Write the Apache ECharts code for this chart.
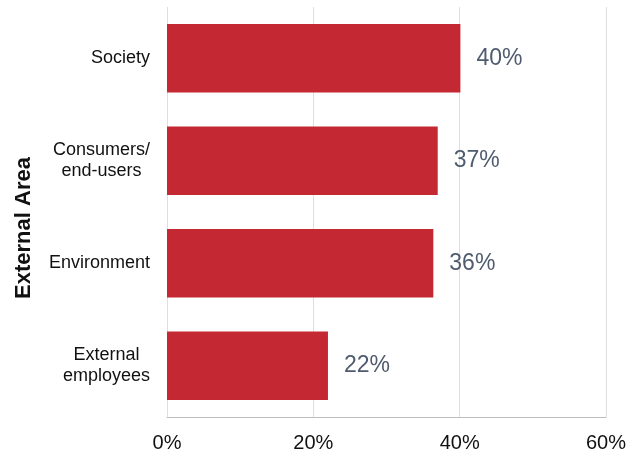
<!DOCTYPE html>
<html>
<head>
<meta charset="utf-8">
<script src="https://cdn.jsdelivr.net/npm/echarts@6/dist/echarts.min.js"></script>
<style>
  html, body { margin: 0; padding: 0; background: #fff; }
  #chart { width: 640px; height: 455px; }
</style>
</head>
<body>
<div id="chart"></div>
<script>
// Share of respondents per external area (percent)
const categories = ['Society', 'Consumers/\nend-users', 'Environment', 'External\nemployees'];
const shares = [40.1, 37.0, 36.4, 22.0];
const axisTicks = [0, 20, 40, 60];

const FONT = 'Liberation Sans, Arial, sans-serif';

const chart = echarts.init(document.getElementById('chart'), null, { renderer: 'canvas' });

chart.setOption({
  animation: false,
  grid: { left: 167, right: 34, top: 7, bottom: 38, containLabel: false },
  xAxis: {
    type: 'value',
    min: axisTicks[0],
    max: axisTicks[axisTicks.length - 1],
    interval: axisTicks[1] - axisTicks[0],
    axisLine: { show: true, lineStyle: { color: '#bfbfbf', width: 1 } },
    axisTick: { show: false },
    splitLine: { show: true, lineStyle: { color: '#dedede', width: 1 } },
    axisLabel: {
      formatter: v => v + '%',
      color: '#111',
      fontFamily: FONT,
      fontSize: 20,
      margin: 16
    }
  },
  yAxis: {
    type: 'category',
    inverse: true,
    data: categories,
    name: 'External Area',
    nameLocation: 'middle',
    nameGap: 132,
    nameRotate: 90,
    nameTextStyle: {
      color: '#111',
      fontFamily: FONT,
      fontSize: 22,
      fontWeight: 'bold',
      padding: [0, 32, 0, 0]
    },
    axisLine: { show: false },
    axisTick: { show: false },
    splitLine: { show: false },
    axisLabel: {
      margin: 17,
      // each line centred within the right-aligned label block
      formatter: v => v.split('\n').map(s => '{c|' + s + '}').join('\n'),
      rich: {
        c: {
          align: 'center',
          color: '#111',
          fontFamily: FONT,
          fontSize: 18,
          lineHeight: 21
        }
      }
    }
  },
  series: [{
    type: 'bar',
    data: shares,
    barWidth: '67%',
    itemStyle: { color: '#c42833' },
    label: {
      show: true,
      position: 'right',
      distance: 16,
      formatter: p => Math.round(p.value) + '%',
      color: '#4f5b6e',
      fontFamily: FONT,
      fontSize: 23
    }
  }]
});
</script>
</body>
</html>
